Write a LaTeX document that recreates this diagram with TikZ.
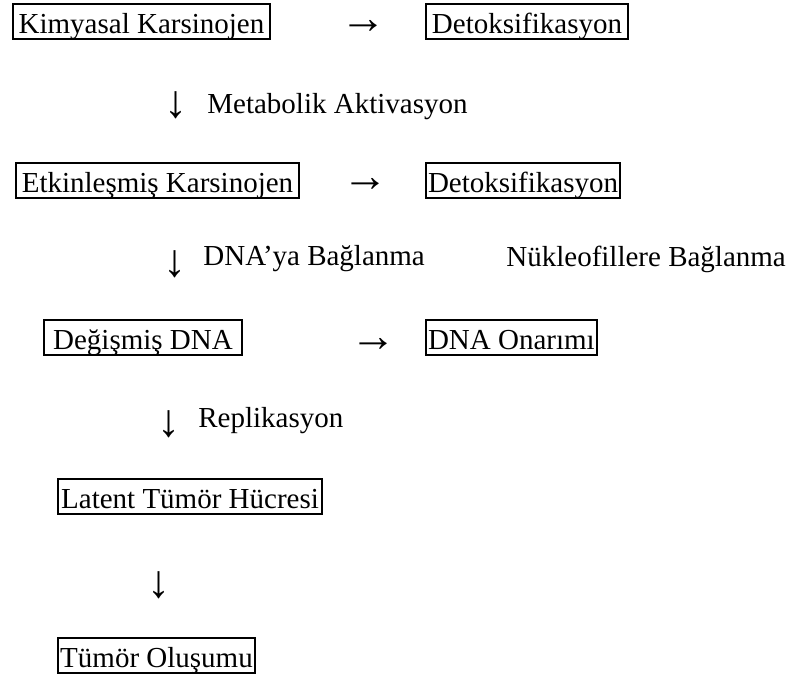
\documentclass[tikz,border=0pt]{standalone}
\usepackage{fontspec}
\setmainfont{Liberation Serif}
\usetikzlibrary{positioning}

\begin{document}
\begin{tikzpicture}
		[x=0.5pt, y=-0.5pt,
		every node/.style={font=\fontsize{14.5pt}{17pt}\selectfont},
		box/.style={draw=black, line width=1pt, anchor=north west, inner xsep=1pt, inner ysep=0.5pt, text height=14pt, text depth=2.5pt},
		sym/.style={inner sep=0pt, anchor=center, font=\fontsize{23pt}{25pt}\selectfont},
		lbl/.style={inner sep=0pt, anchor=base west}]
		\useasboundingbox (0,0) rectangle (794,677);
		\node[box, minimum width=128.5pt] (kimyasal) at (12,3) {Kimyasal Karsinojen};
		\node[sym] (ok1) at (363,27) {→};
		\node[box, minimum width=101pt] (detoks1) at (425,3) {Detoksifikasyon};

		\node[sym] (asagi1) at (176,105) {↓};
		\node[lbl] (metabolik) at (207,113) {Metabolik Aktivasyon};

		\node[box, minimum width=141.5pt] (etkin) at (15,162) {Etkinleşmiş Karsinojen};
		\node[sym] (ok2) at (365,185) {→};
		\node[box, minimum width=96.5pt] (detoks2) at (425,162) {Detoksifikasyon};

		\node[sym] (asagi2) at (175,264) {↓};
		\node[lbl] (dnabag) at (203,265) {DNA’ya Bağlanma};
		\node[lbl] (nukleo) at (506,266) {Nükleofillere Bağlanma};

		\node[box, minimum width=99pt] (degismis) at (43,319) {Değişmiş DNA};
		\node[sym] (ok3) at (373,345) {→};
		\node[box, minimum width=85pt] (onarim) at (425,319) {DNA Onarımı};

		\node[sym] (asagi3) at (169,424) {↓};
		\node[lbl] (replik) at (198,427) {Replikasyon};

		\node[box, minimum width=132pt] (latent) at (57,478) {Latent Tümör Hücresi};
		\node[sym] (asagi4) at (159,585) {↓};
		\node[box, minimum width=98.5pt] (tumor) at (57,637) {Tümör Oluşumu};
	\end{tikzpicture}
\end{document}
